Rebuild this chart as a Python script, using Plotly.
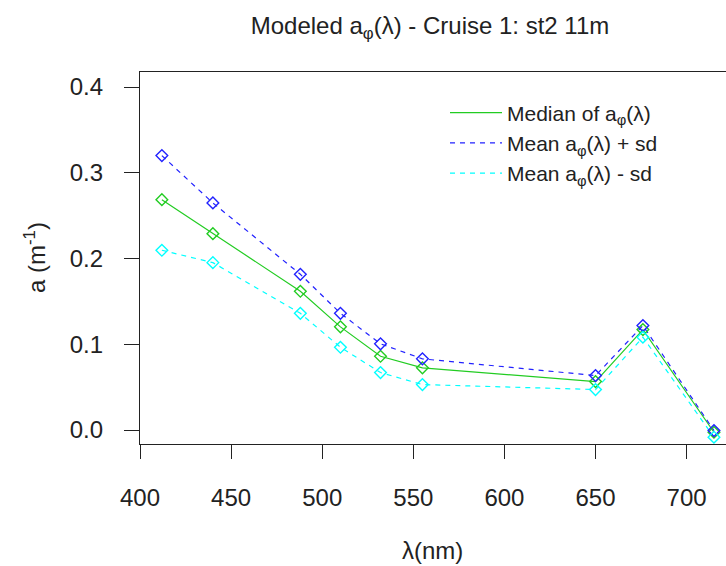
import plotly.graph_objects as go

wavelength = [412, 440, 488, 510, 532, 555, 650, 676, 715]
median_a = [0.2686, 0.2290, 0.1618, 0.1203, 0.0860, 0.0725, 0.0565, 0.1171, -0.0026]
mean_plus_sd = [0.3200, 0.2648, 0.1816, 0.1361, 0.1005, 0.0830, 0.0635, 0.1218, -0.0006]
mean_minus_sd = [0.2096, 0.1952, 0.1361, 0.0965, 0.0670, 0.0530, 0.0472, 0.1082, -0.0084]

x_ticks = [400, 450, 500, 550, 600, 650, 700]
y_ticks = [0.0, 0.1, 0.2, 0.3, 0.4]
y_tick_text = ["0.0", "0.1", "0.2", "0.3", "0.4"]

series = [
    ("Median of a<sub>\u03c6</sub>(\u03bb)", median_a, "#22CC22", "solid"),
    ("Mean a<sub>\u03c6</sub>(\u03bb) + sd", mean_plus_sd, "#2222FF", "5px,5px"),
    ("Mean a<sub>\u03c6</sub>(\u03bb) - sd", mean_minus_sd, "#00FFFF", "5px,5px"),
]

FONT = "Liberation Sans, Arial, sans-serif"
TXT = "#222222"

fig = go.Figure()
for name, vals, color, dash in series:
    fig.add_trace(go.Scatter(
        x=wavelength, y=vals, mode="lines", name=name,
        line=dict(color=color, width=1.2, dash=dash),
    ))
for name, vals, color, dash in series:
    fig.add_trace(go.Scatter(
        x=wavelength, y=vals, mode="markers", showlegend=False,
        marker=dict(symbol="diamond-open", size=9, color=color, line=dict(width=1.4, color=color)),
        cliponaxis=False,
    ))

fig.update_layout(
    width=726, height=566,
    margin=dict(l=140, r=0, t=72, b=122),
    paper_bgcolor="white", plot_bgcolor="white",
    font=dict(family=FONT, size=24, color=TXT),
    title=dict(
        text="Modeled a<sub>\u03c6</sub>(\u03bb) - Cruise 1: st2 11m",
        font=dict(family=FONT, size=24, color=TXT),
        xref="container", yref="container", x=430 / 726, y=1 - 26 / 566,
        xanchor="center", yanchor="middle",
    ),
    legend=dict(
        x=(445 - 140) / 586, y=0.945, xanchor="left", yanchor="top",
        bgcolor="rgba(0,0,0,0)", borderwidth=0,
        font=dict(family=FONT, size=21, color=TXT),
        tracegroupgap=0, itemwidth=52,
    ),
    showlegend=True,
)

fig.update_xaxes(
    range=[400, 721.6], tickvals=x_ticks, showgrid=False, zeroline=False,
    showline=True, linecolor="#222222", linewidth=1.3, mirror=True,
    ticks="outside", ticklen=14, tickwidth=1.3, tickcolor="#222222",
    tickfont=dict(family=FONT, size=24, color=TXT), ticklabelstandoff=18,
)
fig.update_yaxes(
    range=[-0.0163, 0.4175], tickvals=y_ticks, ticktext=y_tick_text,
    showgrid=False, zeroline=False,
    showline=True, linecolor="#222222", linewidth=1.3, mirror=False,
    ticks="outside", ticklen=15, tickwidth=1.3, tickcolor="#222222",
    tickfont=dict(family=FONT, size=24, color=TXT), ticklabelstandoff=16,
)

fig.add_annotation(
    text="\u03bb(nm)", xref="paper", yref="paper",
    x=(432 - 140) / 586, y=(444 - 551) / 372.3,
    xanchor="center", yanchor="middle", showarrow=False,
    font=dict(family=FONT, size=24, color=TXT),
)
fig.add_annotation(
    text="a (m<sup>-1</sup>)", xref="paper", yref="paper",
    x=(35 - 140) / 586, y=0.5, textangle=-90,
    xanchor="center", yanchor="middle", showarrow=False,
    font=dict(family=FONT, size=24, color=TXT),
)

fig.write_html("out.html")
